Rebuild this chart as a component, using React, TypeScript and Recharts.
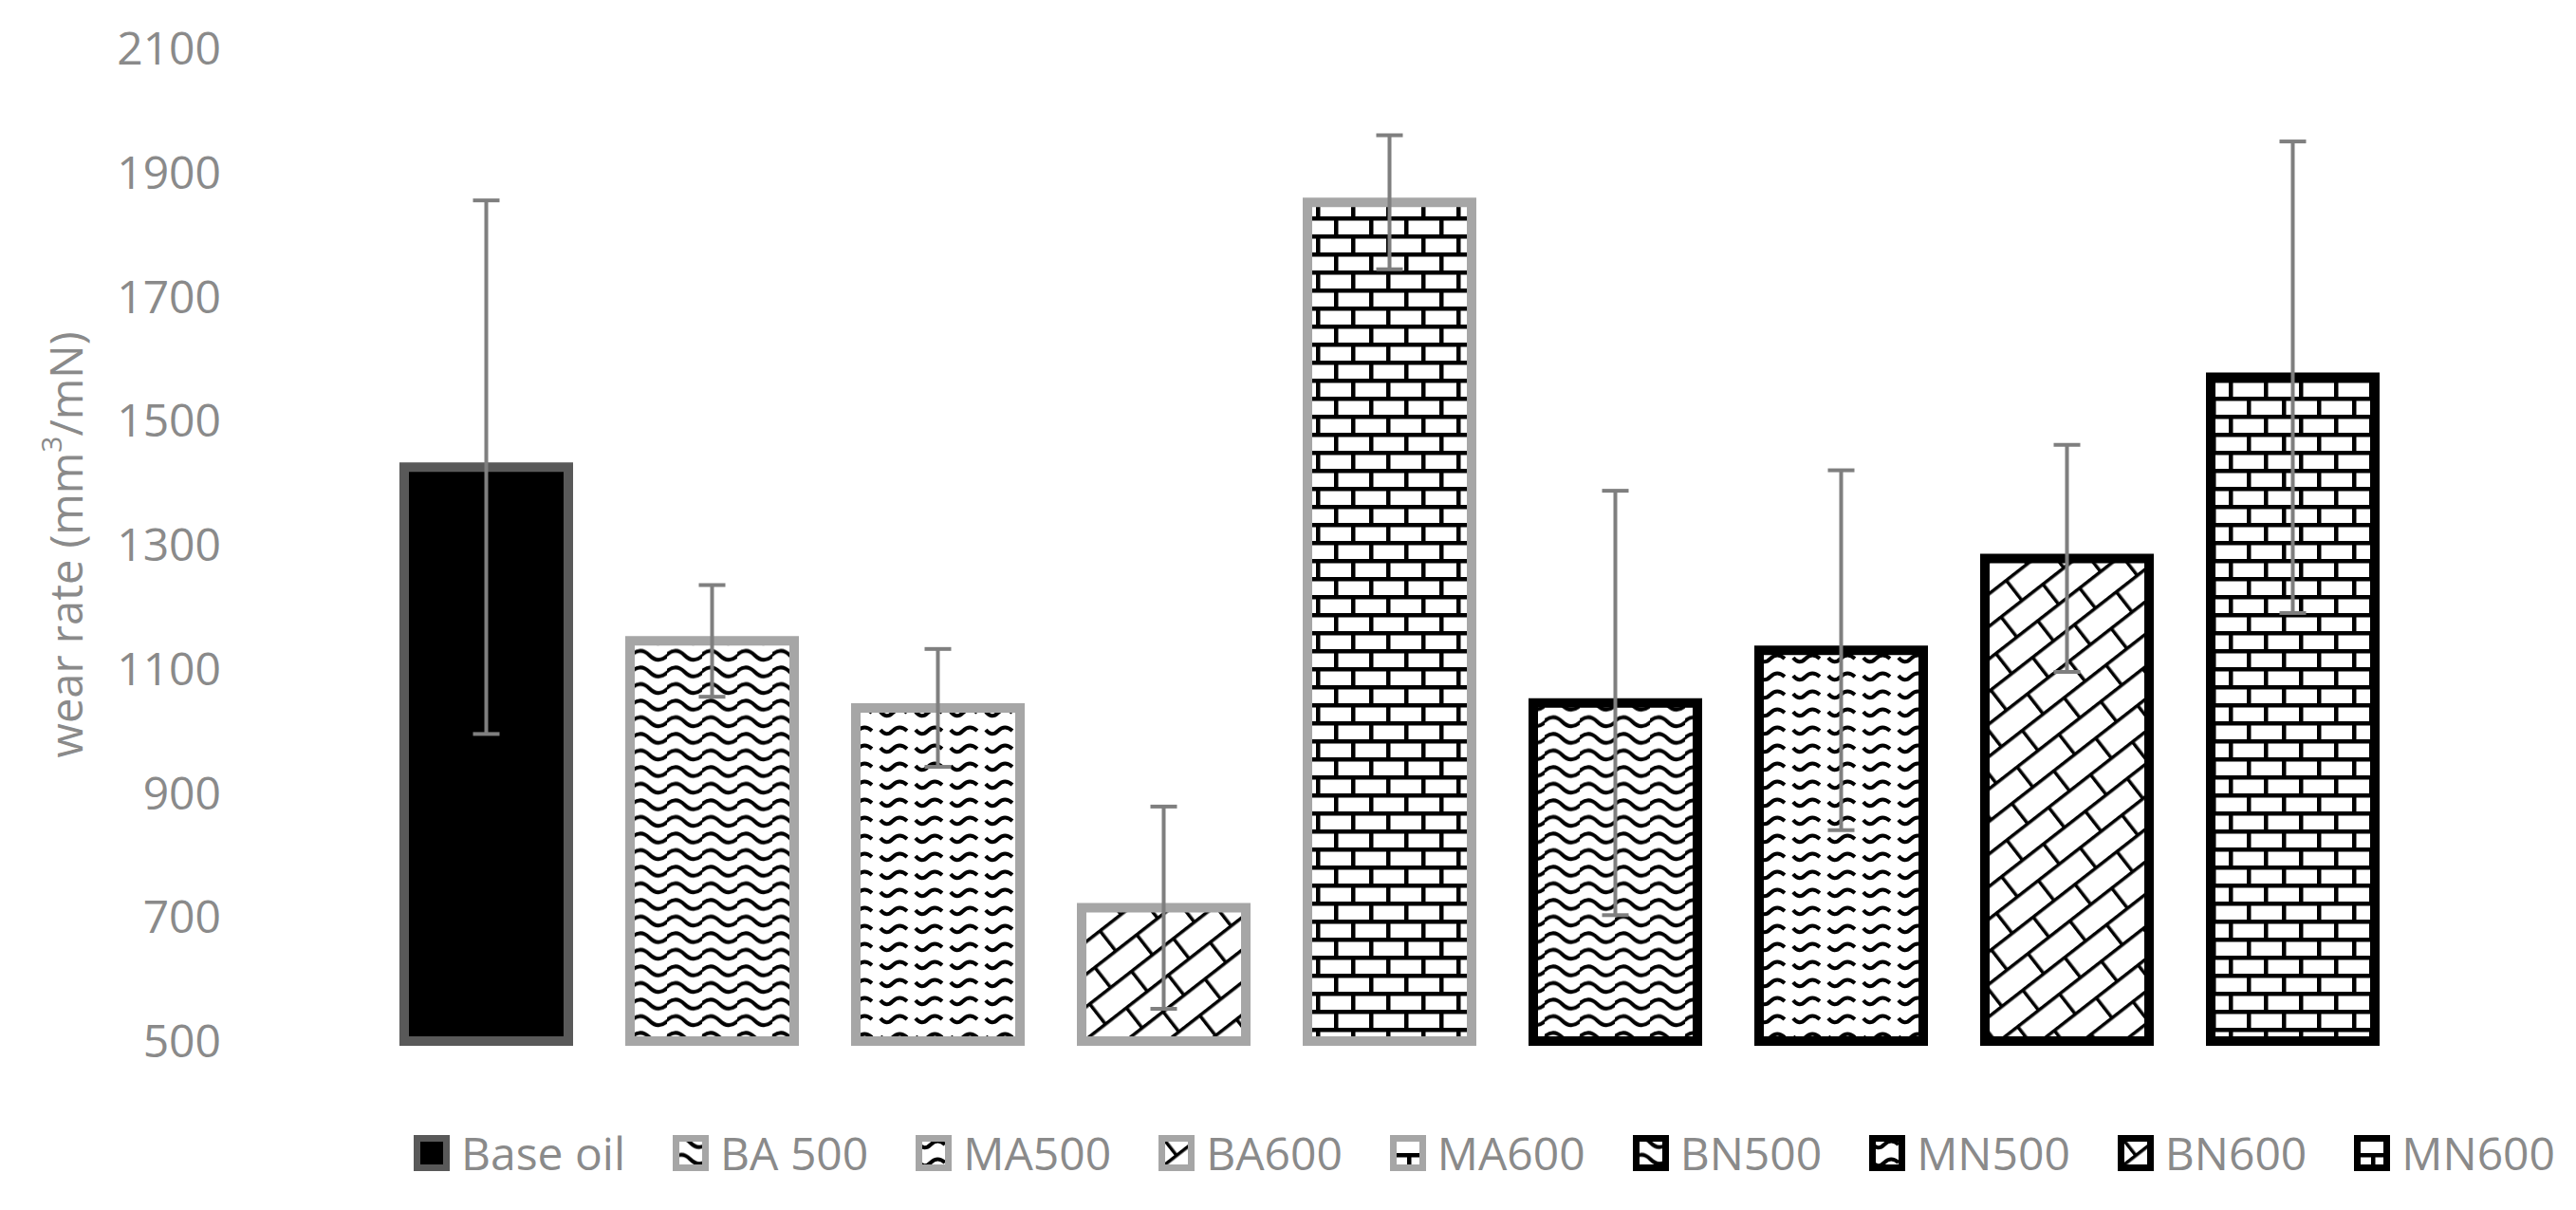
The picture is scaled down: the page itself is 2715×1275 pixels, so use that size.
import React from 'react';
import { BarChart, Bar, XAxis, YAxis, Cell, ErrorBar, Legend, Label } from 'recharts';

const categories = ['Base oil', 'BA 500', 'MA500', 'BA600', 'MA600', 'BN500', 'MN500', 'BN600', 'MN600'];
const wearRate = [1425, 1145, 1037, 715, 1852, 1045, 1130, 1278, 1570];
const wearError = [430, 90, 95, 163, 108, 342, 290, 183, 380];
const yTicks = [500, 700, 900, 1100, 1300, 1500, 1700, 1900, 2100];

// fill / border per bar
const fills = ['#000', 'url(#wave)', 'url(#smallWave)', 'url(#diagBrick)', 'url(#brick)', 'url(#wave)', 'url(#smallWave)', 'url(#diagBrick)', 'url(#brick)'];
const borders = ['#595959', '#a6a6a6', '#a6a6a6', '#a6a6a6', '#a6a6a6', '#000', '#000', '#000', '#000'];

const data = categories.map((name, i) => ({ name, value: wearRate[i], err: wearError[i] }));

const font = '"Open Sans", sans-serif';
const grey = '#8a8a8a';

const renderLegend = () => (
  <div style={{ display: 'flex', alignItems: 'center', height: 70, paddingLeft: 436, fontFamily: font, fontSize: 48, color: grey, lineHeight: 1, whiteSpace: 'nowrap' }}>
    {categories.map((c, i) => (
      <div key={c} style={{ display: 'flex', alignItems: 'center', marginRight: 50, flexShrink: 0 }}>
        <svg width={38} height={38} style={{ display: 'block' }}>
          <rect x={3.5} y={3.5} width={31} height={31} fill={fills[i]} stroke={borders[i]} strokeWidth={7} />
        </svg>
        <span style={{ marginLeft: 12, whiteSpace: 'nowrap' }}>{c}</span>
      </div>
    ))}
  </div>
);

const renderYLabel = (props: any) => {
  const vb = props.viewBox;
  const cx = vb.x + 69;
  const cy = vb.y + vb.height / 2;
  return (
    <text x={cx} y={cy} transform={`rotate(-90, ${cx}, ${cy})`} textAnchor="middle" dominantBaseline="central" fill={grey} fontSize={47} fontFamily={font}>
      wear rate (mm<tspan dy={-16} fontSize={30}>3</tspan><tspan dy={16}>/mN)</tspan>
    </text>
  );
};

export default function App() {
  return (
    <div style={{ position: 'absolute', left: 0, top: 0 }}>
      <BarChart width={2715} height={1275} data={data} margin={{ top: 51, right: 180, left: 0, bottom: 178 }}>
        <defs>
          <pattern id="brick" width="37" height="38" patternUnits="userSpaceOnUse">
            <rect width="37" height="38" fill="#fff" />
            <rect x="0" y="0" width="37" height="4.5" fill="#000" />
            <rect x="0" y="19" width="37" height="4.5" fill="#000" />
            <rect x="0" y="0" width="4.5" height="19" fill="#000" />
            <rect x="18" y="19" width="4.5" height="19" fill="#000" />
          </pattern>
          <pattern id="wave" width="37" height="17.5" patternUnits="userSpaceOnUse">
            <rect width="37" height="17.5" fill="#fff" />
            <path d="M-1 8 Q 9.25 -1.5 18.5 8 T 38 8" fill="none" stroke="#000" strokeWidth="4" />
          </pattern>
          <pattern id="smallWave" width="37" height="19" patternUnits="userSpaceOnUse">
            <rect width="37" height="19" fill="#fff" />
            <path d="M3 9 Q 9 17 16 10 Q 23 3 31 10" fill="none" stroke="#000" strokeWidth="4" />
          </pattern>
          <pattern id="diagBrick" width="56" height="54" patternUnits="userSpaceOnUse" patternTransform="rotate(-38)">
            <rect width="56" height="54" fill="#fff" />
            <rect x="0" y="0" width="56" height="3.5" fill="#000" />
            <rect x="0" y="27" width="56" height="3.5" fill="#000" />
            <rect x="0" y="0" width="3.5" height="27" fill="#000" />
            <rect x="28" y="27" width="3.5" height="27" fill="#000" />
          </pattern>
        </defs>
        <XAxis dataKey="name" hide />
        <YAxis
          width={393}
          domain={[500, 2100]}
          ticks={yTicks}
          axisLine={false}
          tickLine={false}
          tickSize={0}
          tickMargin={160}
          tick={{ fill: grey, fontSize: 48, fontFamily: font }}
        >
          <Label content={renderYLabel} />
        </YAxis>
        <Legend
          layout="horizontal"
          verticalAlign="middle"
          align="center"
          content={renderLegend}
          wrapperStyle={{ top: 1180, left: 0, width: 2715 }}
        />
        <Bar dataKey="value" barSize={173} strokeWidth={10} isAnimationActive={false}>
          {data.map((d, i) => (
            <Cell key={d.name} fill={fills[i]} stroke={borders[i]} />
          ))}
          <ErrorBar dataKey="err" width={14} stroke="#7f7f7f" strokeWidth={4} isAnimationActive={false} />
        </Bar>
      </BarChart>
    </div>
  );
}
